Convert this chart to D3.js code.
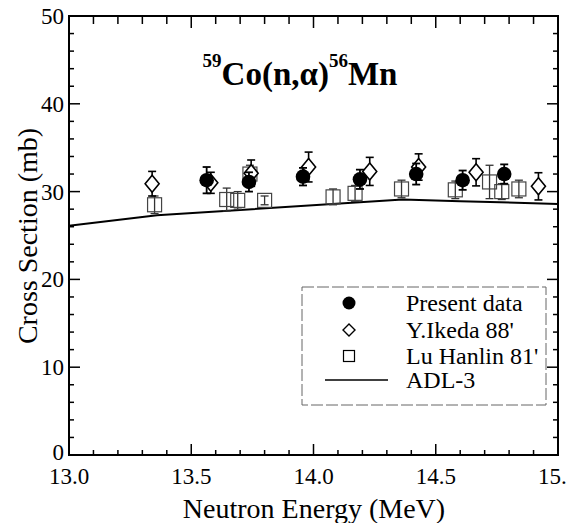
<!DOCTYPE html>
<html lang="en"><head><meta charset="utf-8">
<title>Co-59 (n,alpha) cross section</title>
<script src="https://cdn.jsdelivr.net/npm/d3@7/dist/d3.min.js"></script>
</head><body style="margin:0;font-family:'Times New Roman',serif">
<div id="chart"></div>
<script>
// ---- data ----
const xTicks = [13.0, 13.5, 14.0, 14.5, 15.0];
const xTickLabels = ["13.0", "13.5", "14.0", "14.5", "15."];
const yTicks = [0, 10, 20, 30, 40, 50];
const yTickLabels = ["0", "10", "20", "30", "40", "50"];

// Present data (filled circles): energy, cross section, error
const presentE   = [13.563, 13.736, 13.957, 14.19, 14.42, 14.61, 14.78];
const presentCS  = [31.3, 31.1, 31.7, 31.4, 32.0, 31.3, 32.0];
const presentErr = [1.5, 1.1, 1.0, 1.1, 1.2, 1.1, 1.1];

// Y.Ikeda 88' (open diamonds)
const ikedaE   = [13.34, 13.58, 13.745, 13.98, 14.23, 14.43, 14.665, 14.92];
const ikedaCS  = [30.9, 31.0, 32.1, 32.8, 32.3, 32.8, 32.2, 30.6];
const ikedaErr = [1.4, 1.2, 1.5, 1.7, 1.6, 1.5, 1.55, 1.55];

// Lu Hanlin 81' (open squares)
const luE   = [13.35, 13.645, 13.69, 13.74, 13.80, 14.08, 14.17, 14.36, 14.58, 14.72, 14.77, 14.84];
const luCS  = [28.5, 29.1, 29.0, 32.0, 29.0, 29.4, 29.8, 30.3, 30.2, 31.1, 30.0, 30.3];
const luErr = [1.0, 1.3, 1.0, 1.0, 0.5, 0.9, 0.9, 1.0, 1.0, 1.9, 0.9, 1.0];

// ADL-3 evaluation (solid line)
const adlE  = [13.0, 13.36, 14.365, 14.6, 15.0];
const adlCS = [26.1, 27.3, 29.1, 28.9, 28.6];

const legendLabels = ["Present data", "Y.Ikeda 88'", "Lu Hanlin 81'", "ADL-3"];

// ---- drawing ----
const FONT = "Times New Roman";
const svg = d3.select("#chart").append("svg").attr("width", 574).attr("height", 523)
  .style("display", "block").style("font-family", FONT);
const txt = (sel) => sel.append("text").style("font-family", FONT);
const L = 69, R = 558, T = 16, B = 455;
const x = d3.scaleLinear().domain([13, 15]).range([L, R]);
const y = d3.scaleLinear().domain([0, 50]).range([B, T]);

// frame
svg.append("rect").attr("x", L).attr("y", T).attr("width", R - L).attr("height", B - T)
  .attr("fill", "none").attr("stroke", "#000").attr("stroke-width", 2);

// ticks (inward on all four sides)
const g = svg.append("g").attr("stroke", "#000").attr("stroke-width", 1.5);
d3.range(0, 21).forEach(i => {
  const v = 13 + i * 0.1, major = i % 5 === 0, len = major ? 11 : 5;
  g.append("line").attr("x1", x(v)).attr("x2", x(v)).attr("y1", B).attr("y2", B - len);
  g.append("line").attr("x1", x(v)).attr("x2", x(v)).attr("y1", T).attr("y2", T + (major ? 12 : 8));
});
d3.range(0, 26).forEach(i => {
  const v = i * 2, major = i % 5 === 0, len = major ? 11 : 5;
  g.append("line").attr("x1", L).attr("x2", L + len).attr("y1", y(v)).attr("y2", y(v));
  g.append("line").attr("x1", R).attr("x2", R - len).attr("y1", y(v)).attr("y2", y(v));
});

// tick labels
xTicks.forEach((v, i) => {
  const last = i === xTicks.length - 1;
  txt(svg).attr("x", last ? x(v) - 20 : x(v)).attr("y", 484)
    .attr("text-anchor", last ? "start" : "middle")
    .style("font-size", "23px").text(xTickLabels[i]);
});
yTicks.forEach((v, i) => {
  txt(svg).attr("x", 64).attr("y", y(v) + (v === 0 ? 5 : 8)).attr("text-anchor", "end")
    .style("font-size", "23px").text(yTickLabels[i]);
});

// axis titles
txt(svg).attr("x", 314).attr("y", 518).attr("text-anchor", "middle")
  .style("font-size", "28px").text("Neutron Energy (MeV)");
txt(svg).attr("transform", "translate(37,236) rotate(-90)").attr("text-anchor", "middle")
  .style("font-size", "28px").text("Cross Section (mb)");

// chart title
const tt = txt(svg).attr("x", 300).attr("y", 85).attr("text-anchor", "middle")
  .style("font-weight", "bold").style("font-size", "33px");
tt.append("tspan").style("font-size", "19px").attr("dy", -18).text("59");
tt.append("tspan").attr("dy", 18).text("Co(n,α)");
tt.append("tspan").style("font-size", "19px").attr("dy", -18).text("56");
tt.append("tspan").attr("dy", 18).text("Mn");

// ADL-3 line
const adl = adlE.map((e, i) => [e, adlCS[i]]);
svg.append("path").datum(adl).attr("fill", "none").attr("stroke", "#000").attr("stroke-width", 2)
  .attr("d", d3.line().x(d => x(d[0])).y(d => y(d[1])));

function errBars(E, V, Er, stroke, w) {
  const eg = svg.append("g").attr("stroke", stroke).attr("stroke-width", w);
  E.forEach((e, i) => {
    const cx = x(e), y1 = y(V[i] + Er[i]), y2 = y(V[i] - Er[i]);
    eg.append("line").attr("x1", cx).attr("x2", cx).attr("y1", y1).attr("y2", y2);
    eg.append("line").attr("x1", cx - 4).attr("x2", cx + 4).attr("y1", y1).attr("y2", y1);
    eg.append("line").attr("x1", cx - 4).attr("x2", cx + 4).attr("y1", y2).attr("y2", y2);
  });
}

// Lu Hanlin squares
errBars(luE, luCS, luErr, "#333", 1.3);
svg.append("g").selectAll("rect").data(luE).join("rect")
  .attr("x", (d) => x(d) - 7).attr("y", (d, i) => y(luCS[i]) - 7)
  .attr("width", 14).attr("height", 14).attr("fill", "none").attr("stroke", "#444").attr("stroke-width", 1.2);

// Ikeda diamonds
errBars(ikedaE, ikedaCS, ikedaErr, "#000", 1.6);
const dia = (cx, cy, w, h) => `M${cx},${cy - h}L${cx + w},${cy}L${cx},${cy + h}L${cx - w},${cy}Z`;
svg.append("g").selectAll("path").data(ikedaE).join("path")
  .attr("d", (d, i) => dia(x(d), y(ikedaCS[i]), 7, 8.5))
  .attr("fill", "#fff").attr("stroke", "#000").attr("stroke-width", 1.6);

// Present data circles
errBars(presentE, presentCS, presentErr, "#000", 1.8);
svg.append("g").selectAll("circle").data(presentE).join("circle")
  .attr("cx", d => x(d)).attr("cy", (d, i) => y(presentCS[i])).attr("r", 7.3).attr("fill", "#000");

// legend
svg.append("rect").attr("x", 302).attr("y", 287).attr("width", 244).attr("height", 118)
  .attr("fill", "#fff").attr("stroke", "#666").attr("stroke-width", 1).attr("stroke-dasharray", "12,3");
const lx = 349, ly = [303, 330, 356, 380];
svg.append("circle").attr("cx", lx).attr("cy", ly[0]).attr("r", 6.5).attr("fill", "#000");
svg.append("path").attr("d", dia(lx, ly[1], 6, 6)).attr("fill", "none").attr("stroke", "#000").attr("stroke-width", 1.4);
svg.append("rect").attr("x", lx - 5.5).attr("y", ly[2] - 5.5).attr("width", 11).attr("height", 11)
  .attr("fill", "none").attr("stroke", "#000").attr("stroke-width", 1.2);
svg.append("line").attr("x1", 325).attr("x2", 388).attr("y1", ly[3]).attr("y2", ly[3]).attr("stroke", "#000").attr("stroke-width", 1.5);
legendLabels.forEach((t, i) => {
  txt(svg).attr("x", 406).attr("y", ly[i] + 8).style("font-size", "24px").text(t);
});
</script></body></html>
